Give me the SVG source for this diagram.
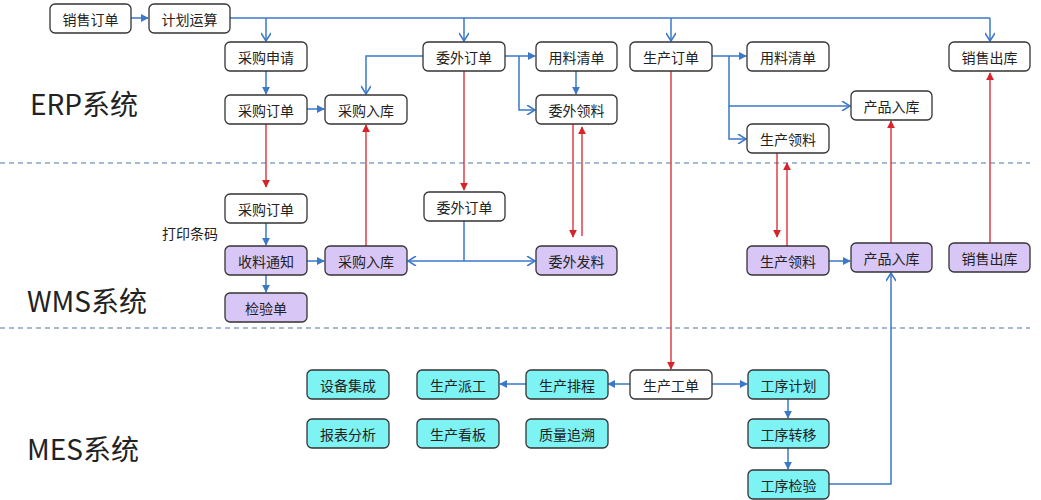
<svg xmlns="http://www.w3.org/2000/svg" width="1041" height="500" viewBox="0 0 1041 500">
<style>
.n{stroke:#333;stroke-width:1.3;fill:#fff}
.p{fill:#d8c6f7}
.c{fill:#7ef3f3}
text{font-family:"Noto Sans CJK SC","Liberation Sans",sans-serif;font-size:14px;fill:#222;text-anchor:middle;dominant-baseline:central}
.big{font-size:28px;text-anchor:start}
.b{stroke:#3b78c8;stroke-width:1.5;fill:none}
.r{stroke:#d8232a;stroke-width:1.3;fill:none}
.o{marker-end:url(#open)}
.f{marker-end:url(#fb)}
.rf{marker-end:url(#fr)}
.d{stroke:#4a78a8;stroke-width:1.2;stroke-dasharray:5 4}
</style>
<defs>
<marker id="open" viewBox="0 0 10 10" refX="9" refY="5" markerWidth="10" markerHeight="10" markerUnits="userSpaceOnUse" orient="auto"><path d="M1 0L9 5L1 10" fill="none" stroke="#3b78c8" stroke-width="1.5"/></marker>
<marker id="fb" viewBox="0 0 10 10" refX="9" refY="5" markerWidth="8" markerHeight="8" markerUnits="userSpaceOnUse" orient="auto"><path d="M0 0L10 5L0 10z" fill="#3b78c8"/></marker>
<marker id="fr" viewBox="0 0 10 10" refX="9" refY="5" markerWidth="8" markerHeight="8" markerUnits="userSpaceOnUse" orient="auto"><path d="M0 0L10 5L0 10z" fill="#d8232a"/></marker>
</defs>
<line class="d" x1="0" y1="163" x2="1030" y2="163"/>
<line class="d" x1="0" y1="328" x2="1030" y2="328"/>
<text class="big" x="30" y="103">ERP系统</text>
<text class="big" x="27" y="300">WMS系统</text>
<text class="big" x="27" y="448">MES系统</text>
<text x="190" y="233">打印条码</text>
<g id="connectors">
<path class="b f" d="M131 18H148"/>
<path class="b" d="M230 18H990"/>
<path class="b o" d="M266 18V41"/>
<path class="b o" d="M464 18V41"/>
<path class="b o" d="M671 18V41"/>
<path class="b o" d="M990 18V41"/>
<path class="b f" d="M266 71V94"/>
<path class="b f" d="M307 109H324"/>
<path class="b o" d="M423 56H366V94"/>
<path class="b f" d="M505 56H535"/>
<path class="b o" d="M519 56V110H535"/>
<path class="b f" d="M576 71V94"/>
<path class="b f" d="M712 56H746"/>
<path class="b o" d="M729 56V106H850"/>
<path class="b o" d="M729 106V139H746"/>
<path class="r rf" d="M266 124V187"/>
<path class="r rf" d="M366 246V125"/>
<path class="r rf" d="M464 71V190"/>
<path class="r rf" d="M573 124V237"/>
<path class="r rf" d="M582 236V127"/>
<path class="r rf" d="M777 153V237"/>
<path class="r rf" d="M787 246V163"/>
<path class="r rf" d="M891 243V121"/>
<path class="r rf" d="M990 243V73"/>
<path class="r rf" d="M671 71V369"/>
<path class="b f" d="M266 223V245"/>
<path class="b f" d="M266 275V292"/>
<path class="b f" d="M307 261H324"/>
<path class="b" d="M464 221V261"/>
<path class="b o" d="M464 261H408"/>
<path class="b o" d="M464 261H535"/>
<path class="b f" d="M829 261H850"/>
<path class="b f" d="M630 384H608"/>
<path class="b f" d="M526 384H500"/>
<path class="b f" d="M712 384H747"/>
<path class="b f" d="M788 399V418"/>
<path class="b f" d="M788 448V469"/>
<path class="b o" d="M829 484H891V273"/>
</g>
<g id="n1"><rect class="n" x="50" y="4" width="81" height="29" rx="5"/><text x="90.5" y="18.5">销售订单</text></g>
<g id="n2"><rect class="n" x="149" y="4" width="81" height="29" rx="5"/><text x="189.5" y="18.5">计划运算</text></g>
<g id="n3"><rect class="n" x="225" y="42" width="82" height="29" rx="5"/><text x="266" y="56.5">采购申请</text></g>
<g id="n4"><rect class="n" x="423" y="42" width="82" height="29" rx="5"/><text x="464" y="56.5">委外订单</text></g>
<g id="n5"><rect class="n" x="536" y="42" width="81" height="29" rx="5"/><text x="576.5" y="56.5">用料清单</text></g>
<g id="n6"><rect class="n" x="630" y="42" width="82" height="29" rx="5"/><text x="671" y="56.5">生产订单</text></g>
<g id="n7"><rect class="n" x="747" y="42" width="82" height="29" rx="5"/><text x="788" y="56.5">用料清单</text></g>
<g id="n8"><rect class="n" x="949" y="42" width="81" height="29" rx="5"/><text x="989.5" y="56.5">销售出库</text></g>
<g id="n9"><rect class="n" x="225" y="95" width="82" height="29" rx="5"/><text x="266" y="109.5">采购订单</text></g>
<g id="n10"><rect class="n" x="325" y="95" width="82" height="29" rx="5"/><text x="366" y="109.5">采购入库</text></g>
<g id="n11"><rect class="n" x="536" y="95" width="81" height="29" rx="5"/><text x="576.5" y="109.5">委外领料</text></g>
<g id="n12"><rect class="n" x="851" y="91" width="81" height="29" rx="5"/><text x="891.5" y="105.5">产品入库</text></g>
<g id="n13"><rect class="n" x="747" y="124" width="82" height="29" rx="5"/><text x="788" y="138.5">生产领料</text></g>
<g id="n14"><rect class="n" x="225" y="194" width="82" height="29" rx="5"/><text x="266" y="208.5">采购订单</text></g>
<g id="n15"><rect class="n" x="424" y="192" width="81" height="29" rx="5"/><text x="464.5" y="206.5">委外订单</text></g>
<g id="n16"><rect class="n p" x="225" y="246" width="82" height="29" rx="5"/><text x="266" y="260.5">收料通知</text></g>
<g id="n17"><rect class="n p" x="325" y="246" width="82" height="29" rx="5"/><text x="366" y="260.5">采购入库</text></g>
<g id="n18"><rect class="n p" x="536" y="246" width="81" height="29" rx="5"/><text x="576.5" y="260.5">委外发料</text></g>
<g id="n19"><rect class="n p" x="747" y="246" width="82" height="29" rx="5"/><text x="788" y="260.5">生产领料</text></g>
<g id="n20"><rect class="n p" x="851" y="243" width="81" height="29" rx="5"/><text x="891.5" y="257.5">产品入库</text></g>
<g id="n21"><rect class="n p" x="949" y="243" width="81" height="29" rx="5"/><text x="989.5" y="257.5">销售出库</text></g>
<g id="n22"><rect class="n p" x="225" y="293" width="82" height="29" rx="5"/><text x="266" y="307.5">检验单</text></g>
<g id="n23"><rect class="n c" x="307" y="370" width="82" height="29" rx="5"/><text x="348" y="384.5">设备集成</text></g>
<g id="n24"><rect class="n c" x="417" y="370" width="82" height="29" rx="5"/><text x="458" y="384.5">生产派工</text></g>
<g id="n25"><rect class="n c" x="526" y="370" width="82" height="29" rx="5"/><text x="567" y="384.5">生产排程</text></g>
<g id="n26"><rect class="n" x="630" y="370" width="82" height="29" rx="5"/><text x="671" y="384.5">生产工单</text></g>
<g id="n27"><rect class="n c" x="748" y="370" width="81" height="29" rx="5"/><text x="788.5" y="384.5">工序计划</text></g>
<g id="n28"><rect class="n c" x="307" y="419" width="82" height="29" rx="5"/><text x="348" y="433.5">报表分析</text></g>
<g id="n29"><rect class="n c" x="417" y="419" width="82" height="29" rx="5"/><text x="458" y="433.5">生产看板</text></g>
<g id="n30"><rect class="n c" x="526" y="419" width="82" height="29" rx="5"/><text x="567" y="433.5">质量追溯</text></g>
<g id="n31"><rect class="n c" x="748" y="419" width="81" height="29" rx="5"/><text x="788.5" y="433.5">工序转移</text></g>
<g id="n32"><rect class="n c" x="748" y="470" width="81" height="29" rx="5"/><text x="788.5" y="484.5">工序检验</text></g>
</svg>
